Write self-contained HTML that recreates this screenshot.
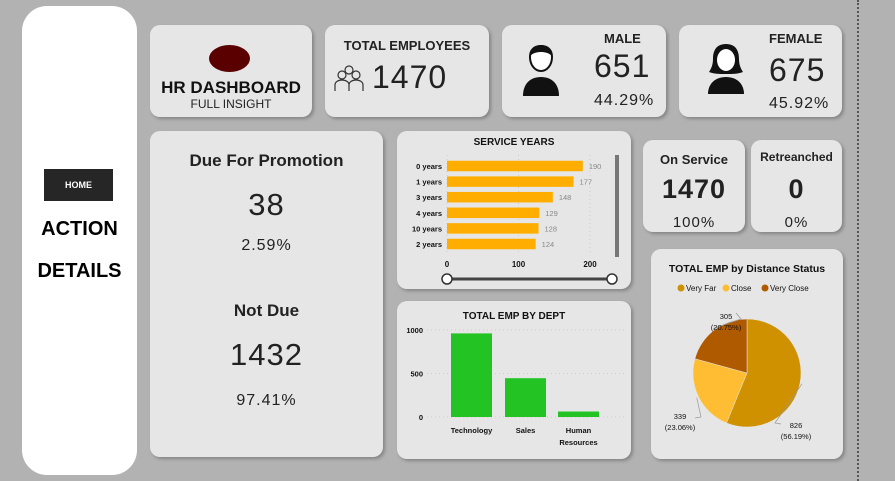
<!DOCTYPE html>
<html><head><meta charset="utf-8">
<style>
body{margin:0;width:895px;height:481px;background:#b2b2b2;position:relative;overflow:hidden;font-family:"Liberation Sans",sans-serif;color:#222}
.card{position:absolute;background:#e6e6e6;border-radius:10px;box-shadow:2px 2px 3px rgba(0,0,0,0.25)}
.c{position:absolute;left:0;right:0;text-align:center}
.b{font-weight:bold}
.num{font-family:"Liberation Sans",sans-serif;letter-spacing:1px}
</style></head><body>
<div style="position:absolute;left:857px;top:0;height:481px;border-left:2px dotted #555"></div>
<div style="position:absolute;left:22px;top:6px;width:115px;height:469px;background:#fff;border-radius:25px">
  <div style="position:absolute;left:22px;top:163px;width:69px;height:32px;background:#262626;color:#fff;font-size:9px;font-weight:bold;text-align:center;line-height:32px">HOME</div>
  <div class="c b" style="top:212px;font-size:20px;color:#000">ACTION</div>
  <div class="c b" style="top:254px;font-size:20px;color:#000">DETAILS</div>
</div>

<div class="card" style="left:150px;top:25px;width:162px;height:92px">
  <div style="position:absolute;left:59px;top:20px;width:41px;height:27px;border-radius:50%;background:#5a0000"></div>
  <div class="c b" style="top:53px;font-size:17px;color:#111">HR DASHBOARD</div>
  <div class="c" style="top:72px;font-size:12px">FULL INSIGHT</div>
</div>
<div class="card" style="left:325px;top:25px;width:164px;height:92px">
  <div class="c b" style="top:13px;font-size:13px">TOTAL EMPLOYEES</div>
  <svg style="position:absolute;left:8px;top:39px" width="32" height="28" viewBox="0 0 32 28"><g fill="none" stroke="#333" stroke-width="1.2"><circle cx="16" cy="6" r="4"/><circle cx="9" cy="11" r="4"/><circle cx="23" cy="11" r="4"/><path d="M2 27v-6c0-3 3-5 7-5s7 2 7 5v6M16 27v-6c0-3 3-5 7-5s7 2 7 5v6"/></g></svg>
  <div class="num" style="position:absolute;left:47px;top:34px;font-size:32px">1470</div>
</div>
<div class="card" style="left:502px;top:25px;width:164px;height:92px">
  <svg style="position:absolute;left:20px;top:17px" width="38" height="54" viewBox="0 0 38 54"><path d="M19 4c-8 0-11 5-11 11 0 8 5 14 11 14s11-6 11-14c0-6-3-11-11-11z" fill="#fff" stroke="#111" stroke-width="2"/><path d="M8 14c1-8 6-11 11-11s10 3 11 11c-3-3-7-4-11-4s-8 1-11 4z" fill="#111"/><path d="M1 54c0-12 7-19 18-19s18 7 18 19z" fill="#111"/></svg>
  <div class="b" style="position:absolute;left:102px;top:6px;font-size:13px">MALE</div>
  <div class="num" style="position:absolute;left:92px;top:23px;font-size:32px">651</div>
  <div class="num" style="position:absolute;left:92px;top:67px;font-size:16px">44.29%</div>
</div>
<div class="card" style="left:679px;top:25px;width:163px;height:92px">
  <svg style="position:absolute;left:28px;top:17px" width="38" height="52" viewBox="0 0 38 52"><path d="M19 2c-10 0-13 7-13 15 0 6-2 10-4 13 5 2 10 2 17 2s12 0 17-2c-2-3-4-7-4-13 0-8-3-15-13-15z" fill="#111"/><ellipse cx="19" cy="18" rx="9" ry="11" fill="#fff"/><path d="M1 52c0-10 7-17 18-17s18 7 18 17z" fill="#111"/></svg>
  <div class="b" style="position:absolute;left:90px;top:6px;font-size:13px">FEMALE</div>
  <div class="num" style="position:absolute;left:90px;top:27px;font-size:32px">675</div>
  <div class="num" style="position:absolute;left:90px;top:70px;font-size:16px">45.92%</div>
</div>

<div class="card" style="left:150px;top:131px;width:233px;height:326px">
  <div class="c b" style="top:20px;font-size:17px">Due For Promotion</div>
  <div class="c num" style="top:56px;font-size:31px">38</div>
  <div class="c num" style="top:106px;font-size:16px">2.59%</div>
  <div class="c b" style="top:170px;font-size:17px">Not Due</div>
  <div class="c num" style="top:206px;font-size:31px">1432</div>
  <div class="c num" style="top:261px;font-size:16px">97.41%</div>
</div>

<div class="card" style="left:397px;top:131px;width:234px;height:158px">
  <svg width="234" height="158" id="svcsvg"></svg>
</div>
<div class="card" style="left:397px;top:301px;width:234px;height:158px">
  <svg width="234" height="158" id="deptsvg"></svg>
</div>

<div class="card" style="left:643px;top:140px;width:102px;height:92px">
  <div class="c b" style="top:12px;font-size:13px">On Service</div>
  <div class="c num b" style="top:34px;font-size:27px">1470</div>
  <div class="c num" style="top:74px;font-size:15px">100%</div>
</div>
<div class="card" style="left:751px;top:140px;width:91px;height:92px">
  <div class="c b" style="top:10px;font-size:12px">Retreanched</div>
  <div class="c num b" style="top:34px;font-size:27px">0</div>
  <div class="c num" style="top:74px;font-size:15px">0%</div>
</div>

<div class="card" style="left:651px;top:249px;width:192px;height:210px">
  <svg width="192" height="210" id="piesvg"></svg>
</div>

<script>
const NS='http://www.w3.org/2000/svg';
function mk(p,t,a,txt){const e=document.createElementNS(NS,t);for(const k in a)e.setAttribute(k,a[k]);if(txt!==undefined)e.textContent=txt;p.appendChild(e);return e;}
const F='Liberation Sans, sans-serif';

// Service years
const svcCategories=['0 years','1 years','3 years','4 years','10 years','2 years'];
const svcValues=[190,177,148,129,128,124];
const svcTicks=[0,100,200];
(function(){
  const s=document.getElementById('svcsvg');
  const x0=50,scale=143/200,y0=35,step=15.6,bh=10.5;
  const xs=v=>x0+v*scale;
  mk(s,'text',{x:117,y:14,'text-anchor':'middle','font-size':10,'font-weight':'bold','font-family':F,fill:'#111'},'SERVICE YEARS');
  svcTicks.forEach(t=>{
    mk(s,'line',{x1:xs(t),x2:xs(t),y1:24,y2:122,stroke:'#ccc','stroke-dasharray':'1,3'});
    const tx=mk(s,'text',{x:xs(t),y:136,'text-anchor':'middle','font-size':8,'font-weight':'bold','font-family':F,fill:'#111'},t);
    
  });
  svcCategories.forEach((c,i)=>{
    const yc=y0+i*step;
    const l=mk(s,'text',{x:45,y:yc+3,'text-anchor':'end','font-size':7.5,'font-weight':'bold','font-family':F,fill:'#111'},c);
    
    const r=mk(s,'rect',{x:x0,y:yc-bh/2,width:svcValues[i]*scale,height:bh,fill:'#ffae00'});
    
    const v=mk(s,'text',{x:xs(svcValues[i])+6,y:yc+3,'font-size':7.5,'font-family':F,fill:'#888'},svcValues[i]);
    
  });
  const sb=mk(s,'rect',{x:218,y:24,width:4,height:102,fill:'#777'});
  
  mk(s,'line',{x1:50,x2:215,y1:148,y2:148,stroke:'#444','stroke-width':3});
  [50,215].forEach(x=>{const h=mk(s,'circle',{cx:x,cy:148,r:5,fill:'#fff',stroke:'#333','stroke-width':1.5});
    });
})();

// Dept
const deptCategories=['Technology','Sales','Human|Resources'];
const deptValues=[961,446,63];
const deptTicks=[0,500,1000];
(function(){
  const s=document.getElementById('deptsvg');
  const y0=116,scale=87/1000,bx=[54,108,161],bw=41;
  const ys=v=>y0-v*scale;
  mk(s,'text',{x:117,y:18,'text-anchor':'middle','font-size':10,'font-weight':'bold','font-family':F,fill:'#111'},'TOTAL EMP BY DEPT');
  deptTicks.forEach(t=>{
    mk(s,'line',{x1:30,x2:228,y1:ys(t),y2:ys(t),stroke:'#ccc','stroke-dasharray':'1,3'});
    const tx=mk(s,'text',{x:26,y:ys(t)+3,'text-anchor':'end','font-size':7.5,'font-weight':'bold','font-family':F,fill:'#111'},t);
    
  });
  deptCategories.forEach((c,i)=>{
    const r=mk(s,'rect',{x:bx[i],y:ys(deptValues[i]),width:bw,height:deptValues[i]*scale,fill:'#22c322'});
    
    c.split('|').forEach((ln,j)=>{
      const t=mk(s,'text',{x:bx[i]+bw/2,y:132+j*12,'text-anchor':'middle','font-size':7.5,'font-weight':'bold','font-family':F,fill:'#111'},ln);
      
    });
  });
})();

// Pie
const pieCategories=['Very Far','Close','Very Close'];
const pieValues=[826,339,305];
const pieColors=['#cf9100','#ffbd33','#b05a00'];
(function(){
  const s=document.getElementById('piesvg');
  mk(s,'text',{x:96,y:23,'text-anchor':'middle','font-size':10.5,'font-weight':'bold','font-family':F,fill:'#111'},'TOTAL EMP by Distance Status');
  let lx=[30,75,114];
  pieCategories.forEach((c,i)=>{
    mk(s,'circle',{cx:lx[i],cy:39,r:3.5,fill:pieColors[i]});
    const t=mk(s,'text',{x:lx[i]+5,y:42,'font-size':8,'font-family':F,fill:'#111'},c);
    
  });
  const cx=96,cy=124,r=54;
  const tot=pieValues.reduce((a,b)=>a+b,0);
  let a=0;
  // label anchor (text center x, first line baseline y) and elbow point
  const lab=[[145,179,[130,175],[124,174]],[29,170,[44,169],[50,168]],[75,70,[85,64],[90,70]]];
  pieValues.forEach((v,i)=>{
    const a1=a+v/tot*2*Math.PI;
    const p=(t)=>[cx+r*Math.sin(t),cy-r*Math.cos(t)];
    const [x1,y1]=p(a),[x2,y2]=p(a1);
    const path=mk(s,'path',{d:`M${cx},${cy}L${x1},${y1}A${r},${r} 0 ${a1-a>Math.PI?1:0} 1 ${x2},${y2}Z`,fill:pieColors[i],stroke:'#e6e6e6','stroke-width':0.5});
    
    const m=(a+a1)/2;const [ex,ey]=[cx+(r+2)*Math.sin(m),cy-(r+2)*Math.cos(m)];
    const [tx,ty,e1,e2]=lab[i];
    mk(s,'polyline',{points:`${ex},${ey} ${e2[0]},${e2[1]} ${e1[0]},${e1[1]}`,fill:'none',stroke:'#999','stroke-width':0.7});
    const t1=mk(s,'text',{x:tx,y:ty,'text-anchor':'middle','font-size':7.5,'font-family':F,fill:'#111'},v);
    
    mk(s,'text',{x:tx,y:ty+11,'text-anchor':'middle','font-size':7.5,'font-family':F,fill:'#111'},'('+(v/tot*100).toFixed(2)+'%)');
    a=a1;
  });
})();
</script>
</body></html>
